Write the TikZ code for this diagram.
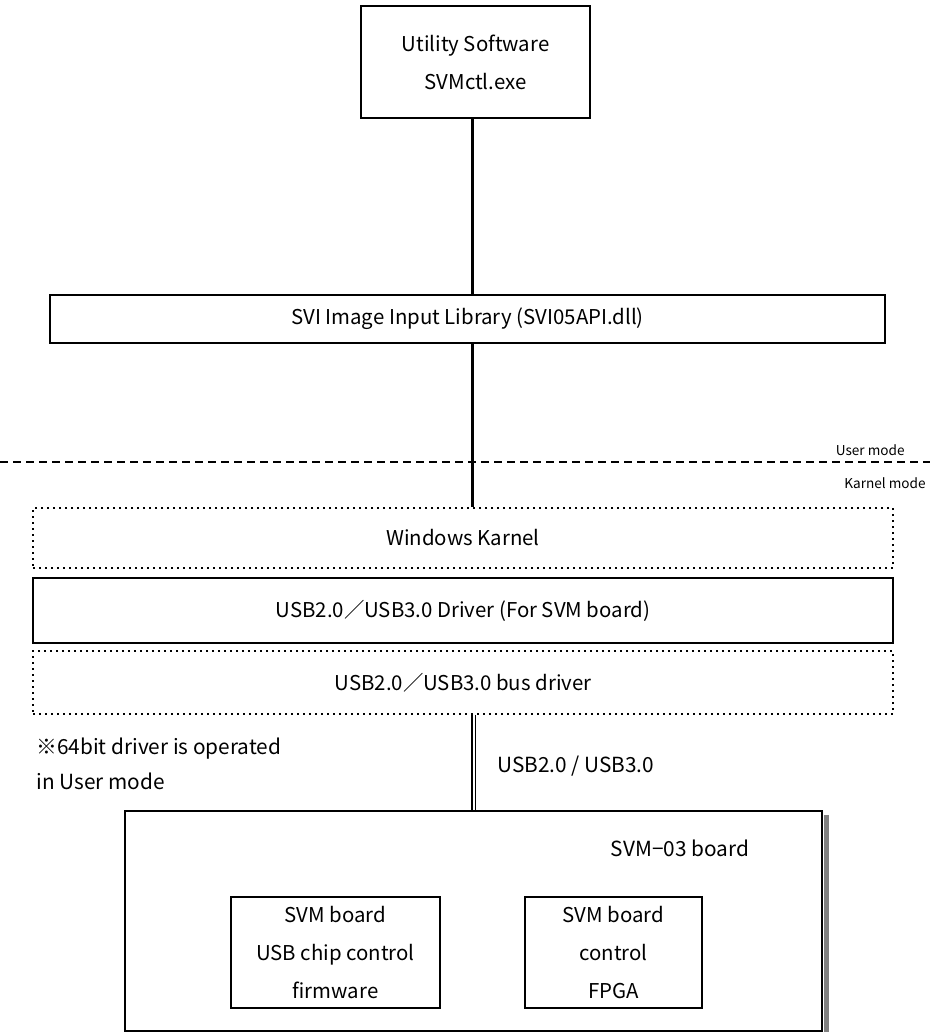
\documentclass[tikz,border=0pt]{standalone}
\usepackage{fontspec}
\setmainfont{Noto Sans CJK JP}
\usepackage{tikz}
\usetikzlibrary{positioning}

\begin{document}
\begin{tikzpicture}[x=0.5pt,y=-0.5pt,
  box/.style={draw,line width=1pt,align=center,inner sep=0pt,font=\fontsize{10.2}{19pt}\selectfont},
  dotbox/.style={draw,dotted,line width=1pt,align=center,inner sep=0pt,font=\fontsize{10.2}{19pt}\selectfont},
  note/.style={inner sep=0pt,font=\fontsize{10.4}{17.5pt}\selectfont}]
\useasboundingbox (0,0) rectangle (930,1032);
% software layer
\node[box,minimum width=114.5pt,minimum height=56pt] (util) at (475.5,62) {Utility Software\\SVMctl.exe};
\node[box,minimum width=417.5pt,minimum height=24pt] (lib) at (467.5,319) {SVI Image Input Library (SVI05API.dll)};
% mode border
\coordinate (mode_l) at (0,462);
\coordinate (mode_r) at (930,462);
\draw[dashed,line width=0.75pt,dash pattern=on 4pt off 2.5pt] (mode_l)--(mode_r);
\node[note,font=\fontsize{6.8}{8}\selectfont,anchor=east] (user) at (905,450) {User mode};
\node[note,font=\fontsize{6.8}{8}\selectfont,anchor=east] (karnel) at (926,483) {Karnel mode};
% kernel layer
\node[dotbox,minimum width=430pt,minimum height=30pt] (kern) at (463,538) {Windows Karnel};
\node[box,minimum width=430pt,minimum height=32.5pt] (drv) at (463,610.5) {USB2.0／USB3.0 Driver (For SVM board)};
\node[dotbox,minimum width=430pt,minimum height=31.5pt] (bus) at (463,682.5) {USB2.0／USB3.0 bus driver};
% board
\node[box,minimum width=348.5pt,minimum height=110pt] (board) at (473.5,921) {};
\fill[black!50] ([xshift=0.5pt,yshift=-2.5pt]board.north east) rectangle ([xshift=3.2pt,yshift=-4pt]board.south east);
\node[note,anchor=center] (board_lbl) at (680,848) {SVM−03 board};
\node[box,minimum width=104.5pt,minimum height=55.5pt] (fw) at (335.5,952.5) {SVM board\\USB chip control\\firmware};
\node[box,minimum width=88.5pt,minimum height=55.5pt] (fpga) at (613.5,952.5) {SVM board\\control\\FPGA};
\node[note,align=left,anchor=north west] (memo) at (36,738) {※64bit driver is operated\\in User mode};
\node[note,anchor=west] (usb_lbl) at (497,766) {USB2.0 / USB3.0};
% connectors
\draw[line width=1.5pt] (util.south -| 472,0)--(lib.north -| 472,0);
\draw[line width=1.5pt] (lib.south -| 472,0)--(kern.north -| 472,0);
\draw[double,double distance=1pt,line width=0.75pt] (bus.south -| 473.5,0)--(board.north -| 473.5,0);
\end{tikzpicture}
\end{document}
